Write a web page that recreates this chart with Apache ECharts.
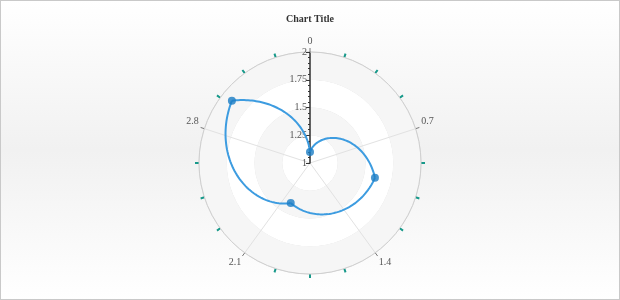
<!DOCTYPE html>
<html>
<head>
<meta charset="utf-8">
<script src="https://cdn.jsdelivr.net/npm/echarts@6/dist/echarts.min.js"></script>
<style>
html,body{margin:0;padding:0;}
#wrap{position:relative;width:620px;height:300px;}
#c{width:620px;height:300px;}
#frame{position:absolute;left:0;top:0;width:620px;height:300px;box-sizing:border-box;border:1px solid #c9c9c9;pointer-events:none;}
</style>
</head>
<body>
<div id="wrap"><div id="c"></div><div id="frame"></div></div>
<script>
// data
const angleValues = [0, 1, 2, 3];
const radiusValues = [1.1, 1.6, 1.4, 1.9];
const angleTickLabels = ['0', '0.7', '1.4', '2.1', '2.8'];
const radiusTickLabels = ['1', '1.25', '1.5', '1.75', '2'];
const titleText = 'Chart Title';

const ANGLE_MIN = 0, ANGLE_MAX = 3.5, ANGLE_INT = 0.7;
const R_MIN = 1, R_MAX = 2, R_INT = 0.25;
const FONT = 'Liberation Serif';

const points = angleValues.map((a, i) => [radiusValues[i], a]);

const chart = echarts.init(document.getElementById('c'));
chart.setOption({
  backgroundColor: {
    type: 'linear', x: 0, y: 0, x2: 0, y2: 1,
    colorStops: [{offset: 0, color: '#ffffff'}, {offset: 0.5, color: '#f1f1f1'}, {offset: 1, color: '#ffffff'}]
  },
  title: {
    text: titleText, left: 'center', top: 9,
    textStyle: {fontFamily: FONT, fontSize: 10, fontWeight: 'bold', color: '#333'}
  },
  polar: {center: [310, 163], radius: 111},
  angleAxis: {
    type: 'value', min: ANGLE_MIN, max: ANGLE_MAX, interval: ANGLE_INT,
    startAngle: 90, clockwise: true,
    axisLine: {show: true, lineStyle: {color: '#cfcfcf', width: 1}},
    axisTick: {show: true, length: 4, lineStyle: {color: '#777', width: 1}},
    minorTick: {show: true, splitNumber: 4, length: 4, lineStyle: {color: '#17998a', width: 2}},
    axisLabel: {
      margin: 6, fontFamily: FONT, fontSize: 10, color: '#555',
      formatter: function (v) {
        const idx = Math.round((v - ANGLE_MIN) / ANGLE_INT);
        return angleTickLabels[idx] !== undefined ? angleTickLabels[idx] : '';
      }
    },
    splitLine: {show: true, lineStyle: {color: '#e2e2e2', width: 1}}
  },
  radiusAxis: {
    type: 'value', min: R_MIN, max: R_MAX, interval: R_INT,
    axisLine: {show: true, lineStyle: {color: '#333', width: 1.5}},
    axisTick: {show: true, length: 4, lineStyle: {color: '#333', width: 1}},
    minorTick: {show: true, splitNumber: 5, length: 2, lineStyle: {color: '#333', width: 1}},
    axisLabel: {
      margin: 3, fontFamily: FONT, fontSize: 10, color: '#555',
      formatter: function (v) {
        const idx = Math.round((v - R_MIN) / R_INT);
        return radiusTickLabels[idx] !== undefined ? radiusTickLabels[idx] : '';
      }
    },
    splitLine: {show: true, lineStyle: {color: '#dcdcdc', width: 1}},
    splitArea: {show: true, areaStyle: {color: ['#ffffff', '#f6f6f6']}}
  },
  series: [
    {
      type: 'custom', coordinateSystem: 'polar',
      data: points,
      clip: false,
      renderItem: function (params, api) {
        const i = params.dataIndex;
        const n = points.length;
        const r0 = api.value(0), a0 = api.value(1);
        const next = points[(i + 1) % n];
        const r1 = next[0];
        let a1 = next[1];
        if (a1 <= a0) a1 += (ANGLE_MAX - ANGLE_MIN);
        const steps = 60;
        const pts = [];
        for (let s = 0; s <= steps; s++) {
          const t = s / steps;
          pts.push(api.coord([r0 + (r1 - r0) * t, a0 + (a1 - a0) * t]));
        }
        return {
          type: 'polyline', shape: {points: pts},
          style: {stroke: '#3d9ce0', lineWidth: 2, fill: null}
        };
      },
      z: 3
    },
    {
      type: 'scatter', coordinateSystem: 'polar',
      data: points, symbol: 'circle', symbolSize: 8,
      itemStyle: {color: '#1b7dc4'},
      z: 4
    }
  ]
});
</script>
</body>
</html>
